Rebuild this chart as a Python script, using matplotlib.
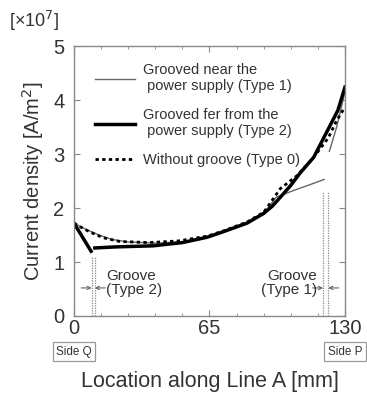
import numpy as np
import matplotlib.pyplot as plt

plt.rcParams['font.family'] = ['Liberation Sans', 'DejaVu Sans']

# Type 0: without groove
x0 = [0, 4, 8, 14, 22, 36, 50, 64, 72, 83, 91, 99, 107, 115, 122, 126, 130]
y0 = [1.72, 1.63, 1.55, 1.45, 1.38, 1.36, 1.39, 1.48, 1.58, 1.74, 1.92, 2.36, 2.6, 2.94, 3.3, 3.62, 3.87]

# Type 1: grooved near the power supply (two segments around the groove)
x1a = [0, 6, 12, 18, 26, 40, 55, 64, 75, 85, 92, 97, 105, 113, 120]
y1a = [1.72, 1.6, 1.5, 1.42, 1.37, 1.35, 1.38, 1.47, 1.6, 1.76, 1.95, 2.2, 2.32, 2.43, 2.53]
x1b = [122.5, 126, 130]
y1b = [3.05, 3.5, 4.15]

# Type 2: grooved far from the power supply
x2a = [0, 8.2]
y2a = [1.72, 1.2]
x2b = [10, 20, 38, 52, 64, 73, 83, 91, 95, 99, 104, 108.5, 115, 121, 126.6, 130]
y2b = [1.26, 1.28, 1.30, 1.36, 1.46, 1.58, 1.72, 1.9, 2.03, 2.2, 2.42, 2.65, 2.94, 3.39, 3.81, 4.24]

groove2 = [8.5, 10]
groove1 = [119.5, 122]

fig = plt.figure(figsize=(3.67, 3.94), dpi=100)
ax = fig.add_axes([0.2016, 0.198, 0.7384, 0.685])

tc = '#333333'
ax.plot(x1a, y1a, color='#666666', lw=1.0, label='Grooved near the\n power supply (Type 1)')
ax.plot(x1b, y1b, color='#666666', lw=1.0)
ax.plot(x2a, y2a, color='black', lw=2.5)
ax.plot(x2b, y2b, color='black', lw=2.5, label='Grooved fer from the\n power supply (Type 2)')
ax.plot(x0, y0, color='black', lw=2.0, ls=(0, (1.2, 1.2)), label='Without groove (Type 0)')

# groove markers
for g in groove2:
    ax.plot([g, g], [0, 1.1], color='#888888', lw=0.9, ls=(0, (1, 1)))
for g in groove1:
    ax.plot([g, g], [0, 2.3], color='#888888', lw=0.9, ls=(0, (1, 1)))
ap = dict(arrowstyle='->', color='#666666', lw=0.8, shrinkA=0, shrinkB=0, mutation_scale=6)
ax.annotate('', xy=(groove2[0], 0.52), xytext=(groove2[0] - 5, 0.52), arrowprops=ap)
ax.annotate('', xy=(groove2[1], 0.52), xytext=(groove2[1] + 5, 0.52), arrowprops=ap)
ax.annotate('', xy=(groove1[0], 0.52), xytext=(groove1[0] - 5, 0.52), arrowprops=ap)
ax.annotate('', xy=(groove1[1], 0.52), xytext=(groove1[1] + 5, 0.52), arrowprops=ap)
ax.text(15.5, 0.62, 'Groove\n(Type 2)', fontsize=11, color=tc, va='center', ha='left', linespacing=1.0)
ax.text(116.5, 0.62, 'Groove\n(Type 1)', fontsize=11, color=tc, va='center', ha='right', linespacing=1.0)

ax.set_xlim(0, 130)
ax.set_ylim(0, 5)
ax.set_xticks([0, 65, 130])
ax.set_xticks(np.arange(0, 131, 13), minor=True)
ax.set_yticks([0, 1, 2, 3, 4, 5])
ax.tick_params(which='both', direction='in', top=True, right=True, colors='#888888',
               labelcolor=tc, labelsize=14.5)
ax.tick_params(which='major', length=4)
ax.tick_params(which='minor', length=2.5)
ax.tick_params(axis='x', pad=2)
ax.tick_params(axis='y', pad=7)
for s in ax.spines.values():
    s.set_color('#888888')
    s.set_linewidth(1.0)

ax.set_xlabel('Location along Line A [mm]', fontsize=15.5, color=tc, labelpad=24)
ax.set_ylabel('Current density [A/m$^2$]', fontsize=14.5, color=tc, labelpad=5)

bbox = dict(boxstyle='square,pad=0.3', fc='white', ec='#999999', lw=0.9)
ax.text(0, -0.66, 'Side Q', fontsize=8.5, color=tc, ha='center', va='center', bbox=bbox)
ax.text(130, -0.66, 'Side P', fontsize=8.5, color=tc, ha='center', va='center', bbox=bbox)
fig.text(0.025, 0.948, '[×10$^7$]', fontsize=13, color=tc, ha='left', va='center')

leg = ax.legend(loc='upper left', bbox_to_anchor=(0.03, 0.985), frameon=False, fontsize=10.5,
                handlelength=2.7, labelspacing=1.0, handletextpad=0.6)
for t in leg.get_texts():
    t.set_color(tc)

fig.savefig('out.png', dpi=100)
